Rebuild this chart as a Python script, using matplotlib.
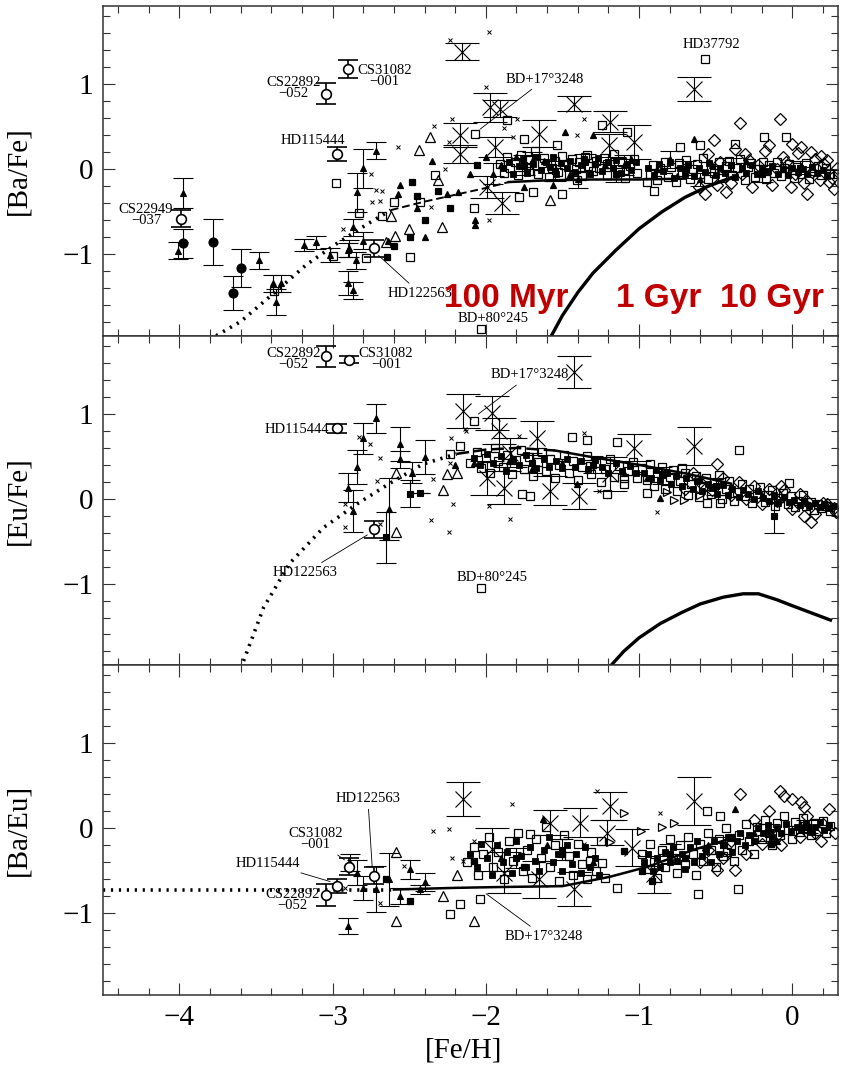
import numpy as np
import matplotlib.pyplot as plt
from matplotlib.ticker import MultipleLocator

plt.rcParams['font.family'] = ['Liberation Serif', 'DejaVu Serif']

# ===========================================================
# PANEL 1: [Ba/Fe]
# ===========================================================
ba_fcirc = [(-3.98, -0.87, 0.17), (-3.78, -0.85, 0.27), (-3.65, -1.45, 0.20), (-3.60, -1.16, 0.22)]
ba_ocirc = [(-3.99, -0.58, 0.10), (-3.04, 0.89, 0.12), (-2.90, 1.18, 0.11), (-2.97, 0.18, 0.08), (-2.73, -0.93, 0.10)]
ba_tri_err = [(-3.98, -0.28, 0.18), (-4.01, -0.96, 0.10), (-3.48, -1.07, 0.10), (-3.39, -1.34, 0.10),
              (-3.34, -1.34, 0.10), (-3.37, -1.56, 0.15), (-3.19, -0.89, 0.07), (-3.11, -0.86, 0.08),
              (-3.02, -1.01, 0.08), (-2.90, -0.95, 0.08), (-2.90, -1.34, 0.14), (-2.87, -1.42, 0.10),
              (-2.84, -0.27, 0.23), (-2.80, 0.01, 0.23), (-2.72, 0.22, 0.10), (-2.80, -0.84, 0.10),
              (-2.87, -0.68, 0.10), (-2.89, -0.93, 0.10), (-2.85, -1.07, 0.10),
              (-1.95, -0.05, 0.12), (-1.70, 0.10, 0.10), (-1.40, -0.12, 0.10), (-1.10, 0.05, 0.12),
              (-0.80, 0.12, 0.10), (-0.60, -0.12, 0.08)]
ba_sq_err = [(-1.75, 0.05, 0.12), (-1.55, -0.02, 0.12), (-1.35, 0.08, 0.10), (-1.15, -0.05, 0.10),
             (-0.70, 0.00, 0.10), (-0.40, 0.05, 0.08), (-0.20, -0.05, 0.10), (0.05, 0.02, 0.08)]
ba_tri = [(-1.48, 0.44), (-1.30, 0.40), (-0.64, 0.36), (-2.57, -0.29), (-2.56, -0.19), (-2.07, -0.60),
          (-2.07, -0.66), (-2.40, -0.80), (-2.25, -0.29), (-2.18, -0.27), (-2.64, -0.84), (-1.75, -0.21),
          (-1.56, -0.19), (-2.45, -0.45), (-2.35, 0.10), (-1.90, 0.05), (-1.62, 0.10), (-1.22, 0.05),
          (-0.88, 0.00), (-0.52, 0.05), (-1.80, 0.15), (-1.45, -0.05), (-1.05, 0.12), (-0.75, -0.08),
          (-0.30, 0.10), (-2.10, -0.05), (-2.00, 0.15)]
ba_bigx = [(-2.156, 1.38, 0.10), (-1.971, 0.73, 0.17), (-1.906, 0.71, 0.10), (-1.426, 0.77, 0.09),
           (-0.642, 0.94, 0.14), (-1.187, 0.56, 0.12), (-2.167, 0.40, 0.14), (-2.167, 0.18, 0.11),
           (-1.655, 0.42, 0.16), (-1.94, 0.26, 0.12), (-1.197, 0.28, 0.13), (-1.034, 0.32, 0.20),
           (-1.895, -0.40, 0.13), (-1.99, -0.21, 0.13)]
ba_smallx = [(-1.982, 1.615), (-2.233, 1.52), (-2.00, 0.97), (-1.797, 0.596), (-2.222, 0.596), (-1.884, 0.48),
             (-2.243, 0.32), (-2.34, 0.505), (-1.36, 0.596), (-1.405, 0.40), (-2.265, 0.008), (-1.982, -0.60),
             (-2.68, -0.25), (-2.69, -0.37), (-2.57, 0.26), (-2.36, -0.44), (-1.82, 0.38), (-2.75, -0.05),
             (-2.72, -0.24), (-2.74, -0.38), (-2.93, -0.70)]
ba_otri = [(-2.433, 0.223), (-2.363, 0.38), (-2.31, -0.13), (-2.287, -0.68), (-1.579, -0.365),
           (-2.59, -0.78), (-2.62, -0.55), (-2.65, -0.85), (-2.50, -0.70)]
ba_fsq = [(-2.646, -1.03), (-2.494, -0.80), (-2.396, -0.60), (-2.232, -0.46), (-2.058, 0.047),
          (-2.309, -0.25), (-2.48, -0.15), (-2.45, -0.31), (-2.60, -0.90)]
ba_osq = [(-2.98, -0.16), (-2.83, -0.51), (-2.78, -1.04), (-3.00, -1.02), (-2.68, -0.55), (-3.38, -1.43),
          (-1.862, 0.576), (-1.753, 0.36), (-2.07, 0.42), (-1.535, 0.28), (-1.50, -0.29), (-1.69, -0.27),
          (-1.786, -0.33), (-2.08, -0.46), (-2.494, -1.03), (-2.33, -0.07), (-2.60, -0.385), (-2.43, -0.385),
          (-0.73, 0.26), (-0.60, 0.28), (-1.08, 0.44), (-1.24, 0.52), (-0.37, 0.30), (-0.185, 0.38),
          (-0.043, 0.38), (-0.947, -0.15), (-0.90, -0.25), (0.295, -0.05), (-1.34, 0.165), (-1.21, 0.066),
          (-1.405, -0.13), (-0.57, 1.30), (-2.03, -1.88),
          (-1.91, 0.06), (-1.88, -0.04), (-1.86, 0.14), (-1.84, 0.01), (-1.81, 0.09), (-1.79, -0.07),
          (-1.77, 0.17), (-1.74, 0.03), (-1.72, -0.02), (-1.71, 0.11), (-1.68, 0.21), (-1.66, -0.05),
          (-1.63, 0.07), (-1.62, 0.13), (-1.59, -0.09), (-1.57, 0.02), (-1.55, 0.10), (-1.53, -0.03),
          (-1.50, 0.16), (-1.49, 0.05), (-1.46, -0.06), (-1.44, 0.12), (-1.41, 0.00), (-1.39, 0.08),
          (-1.37, -0.08), (-1.35, 0.15), (-1.33, 0.04), (-1.30, -0.02), (-1.28, 0.10), (-1.26, 0.01),
          (-1.23, 0.13), (-1.21, -0.07), (-1.19, 0.06), (-1.16, 0.18), (-1.14, -0.03), (-1.11, 0.09),
          (-1.09, -0.10), (-1.06, 0.04), (-1.03, 0.12), (-1.01, -0.04),
          (-0.93, -0.06), (-0.91, 0.05), (-0.88, -0.13), (-0.86, 0.01), (-0.83, 0.09), (-0.81, -0.09),
          (-0.79, 0.03), (-0.76, -0.15), (-0.74, 0.07), (-0.72, -0.03), (-0.69, 0.11), (-0.67, -0.11),
          (-0.65, 0.00), (-0.62, 0.06), (-0.60, -0.05), (-0.58, 0.13), (-0.55, -0.12), (-0.53, 0.02),
          (-0.51, -0.04), (-0.48, 0.08), (-0.46, -0.10), (-0.43, 0.04), (-0.41, 0.10), (-0.39, -0.07),
          (-0.36, 0.01), (-0.34, 0.12), (-0.31, -0.13), (-0.29, 0.03), (-0.27, 0.07), (-0.24, -0.09),
          (-0.22, 0.00), (-0.19, 0.09), (-0.17, -0.11), (-0.15, 0.05), (-0.12, -0.04), (-0.10, 0.08),
          (-0.07, -0.08), (-0.05, 0.02), (-0.02, 0.06), (0.01, -0.10), (0.03, 0.03), (0.06, -0.06),
          (0.09, 0.07), (0.11, -0.12), (0.14, 0.01), (0.17, 0.04), (0.19, -0.07), (0.22, 0.02), (0.25, -0.05)]
ba_dense = [(-1.89, 0.02), (-1.85, 0.08), (-1.82, -0.06), (-1.78, 0.04), (-1.76, 0.12), (-1.73, -0.04),
            (-1.69, 0.06), (-1.67, 0.14), (-1.64, -0.01), (-1.61, 0.09), (-1.58, 0.03), (-1.56, 0.15),
            (-1.54, -0.06), (-1.51, 0.07), (-1.47, 0.01), (-1.45, 0.10), (-1.42, -0.03), (-1.38, 0.05),
            (-1.36, 0.12), (-1.32, -0.05), (-1.29, 0.06), (-1.27, 0.13), (-1.24, -0.02), (-1.20, 0.09),
            (-1.17, 0.02), (-1.15, 0.11), (-1.12, -0.04), (-1.08, 0.06), (-1.05, -0.01), (-1.02, 0.08),
            (-0.94, 0.02), (-0.90, -0.07), (-0.87, 0.06), (-0.84, -0.02), (-0.80, 0.08), (-0.77, -0.10),
            (-0.73, 0.01), (-0.70, -0.05), (-0.68, 0.05), (-0.64, -0.08), (-0.61, 0.02), (-0.57, -0.03),
            (-0.54, 0.07), (-0.50, -0.07), (-0.47, 0.01), (-0.44, -0.04), (-0.40, 0.05), (-0.37, -0.09),
            (-0.33, 0.02), (-0.30, -0.04), (-0.26, 0.05), (-0.23, -0.06), (-0.20, 0.02), (-0.16, -0.02),
            (-0.13, 0.04), (-0.09, -0.05), (-0.06, 0.00), (-0.03, -0.07), (0.00, 0.02), (0.04, -0.03),
            (0.07, 0.00), (0.10, -0.06), (0.13, 0.03), (0.16, -0.04), (0.20, -0.01), (0.23, -0.08)]
ba_diam = [(-0.51, 0.34), (-0.34, 0.545), (-0.08, 0.59), (0.12, 0.20), (0.23, 0.11), (-0.57, -0.29),
           (-0.43, -0.27), (0.10, -0.29), (0.27, -0.23), (-0.47, 0.09), (-0.40, -0.16), (-0.31, 0.18),
           (-0.26, -0.21), (-0.18, 0.22), (-0.13, -0.18), (-0.06, 0.15), (-0.01, -0.21), (0.04, 0.19),
           (0.08, -0.16), (0.15, 0.12), (0.18, -0.13), (0.21, 0.06), (0.26, -0.10), (0.29, 0.01),
           (-0.22, 0.05), (-0.10, 0.00), (0.02, -0.06), (-0.33, -0.05), (-0.49, -0.19), (-0.61, -0.21),
           (-0.15, 0.28), (0.00, 0.30), (0.06, 0.26), (-0.37, 0.24), (-0.55, 0.18), (0.13, -0.03),
           (0.19, 0.16), (-0.04, 0.08), (-0.28, 0.11), (0.24, -0.15)]
ba_dot_x = [-3.85, -3.60, -3.36, -3.17, -2.97, -2.77, -2.62]
ba_dot_y = [-2.05, -1.79, -1.42, -1.12, -0.87, -0.64, -0.48]
ba_dash_x = [-2.62, -2.40, -2.20, -2.00, -1.85]
ba_dash_y = [-0.48, -0.38, -0.30, -0.22, -0.15]
ba_trend_x = [-1.85, -1.60, -1.30, -1.00, -0.70]
ba_trend_y = [-0.15, -0.13, -0.12, -0.12, -0.11]
ba_sfr_x = [-1.60, -1.50, -1.40, -1.30, -1.15, -1.00, -0.85, -0.70, -0.55, -0.40]
ba_sfr_y = [-2.05, -1.72, -1.45, -1.22, -0.95, -0.70, -0.50, -0.33, -0.20, -0.10]

# ===========================================================
# PANEL 2: [Eu/Fe]
# ===========================================================
eu_ocirc = [(-3.04, 1.68, 0.12), (-2.89, 1.64, 0.04), (-2.97, 0.83, 0.05), (-2.73, -0.36, 0.10)]
eu_tri_err = [(-2.716, 0.949, 0.17), (-2.80, 0.713, 0.18), (-2.838, 0.376, 0.20), (-2.897, 0.133, 0.17),
              (-2.864, -0.142, 0.25), (-2.563, 0.643, 0.20), (-2.559, 0.466, 0.10), (-2.483, 0.309, 0.12),
              (-2.395, 0.494, 0.20), (-2.635, -0.12, 0.37)]
eu_fsq_err = [(-2.494, 0.062, 0.16), (-2.43, 0.074, 0.0), (-2.65, -0.455, 0.30), (-0.119, -0.20, 0.20),
              (-1.70, 0.42, 0.12), (-1.30, 0.40, 0.10), (-0.85, 0.28, 0.10), (-0.50, 0.15, 0.10)]
eu_otri = [(-2.585, -0.397), (-2.585, 0.31), (-2.28, 0.10), (-2.254, 0.29), (-2.19, 0.31)]
eu_smallx = [(-2.83, 0.73), (-2.755, 0.642), (-2.69, 0.486), (-2.707, 0.211), (-2.918, -0.063),
             (-2.918, -0.338), (-2.69, -0.30), (-2.36, -0.25), (-2.243, -0.397), (-2.215, -0.063),
             (-2.345, 0.231), (-2.23, 0.713), (-2.127, 0.80), (-2.236, 0.427), (-2.134, 0.82),
             (-1.98, -0.083), (-1.84, -0.24), (-0.882, -0.161), (-1.786, 0.74), (-1.361, 0.78), (-1.263, 0.094)]
eu_bigx = [(-2.15, 1.035, 0.20), (-1.426, 1.498, 0.19), (-1.96, 1.015, 0.20), (-1.916, 0.80, 0.15),
           (-1.84, 0.545, 0.17), (-1.666, 0.72, 0.20), (-1.993, 0.25, 0.20), (-1.884, 0.133, 0.20),
           (-1.579, 0.094, 0.17), (-1.393, 0.035, 0.15), (-1.187, 0.29, 0.20), (-1.034, 0.603, 0.16),
           (-0.642, 0.623, 0.22)]
eu_tri = [(-1.404, 0.172), (-0.86, 0.015), (-2.08, 0.427), (-1.70, 0.35), (-1.50, 0.42), (-1.10, 0.30),
          (-0.75, 0.30), (-0.40, 0.15), (-2.20, 0.40), (-1.85, 0.45), (-1.30, 0.40), (-0.95, 0.25),
          (-0.60, 0.22), (-0.20, 0.05), (0.10, -0.05)]
eu_rtri = [(-0.773, -0.012), (-0.703, -0.012), (-0.82, 0.08), (-0.60, 0.05)]
eu_osq = [(-2.171, 0.623), (-2.232, 0.525), (-2.08, 0.92), (-2.03, -1.05), (-1.437, 0.729), (-1.339, 0.69),
          (-1.143, 0.674), (-0.348, 0.576), (-0.021, 0.192), (-1.21, 0.055), (-1.317, 0.388), (-1.764, 0.055),
          (-1.71, 0.035), (-0.947, 0.074), (-0.555, -0.044), (-0.472, -0.044), (-1.10, 0.25), (-0.718, 0.368),
          (-2.10, 0.42), (-2.06, 0.55), (-2.03, 0.36), (-2.00, 0.48), (-1.97, 0.31), (-1.94, 0.60),
          (-1.92, 0.44), (-1.89, 0.38), (-1.86, 0.52), (-1.83, 0.29), (-1.80, 0.46), (-1.77, 0.57),
          (-1.75, 0.35), (-1.72, 0.49), (-1.69, 0.27), (-1.66, 0.43), (-1.63, 0.55), (-1.61, 0.33),
          (-1.58, 0.47), (-1.55, 0.24), (-1.52, 0.40), (-1.49, 0.52), (-1.46, 0.31), (-1.43, 0.44),
          (-1.40, 0.22), (-1.37, 0.38), (-1.34, 0.50), (-1.31, 0.29), (-1.28, 0.42), (-1.25, 0.20),
          (-1.22, 0.35), (-1.19, 0.47), (-1.16, 0.26), (-1.13, 0.39), (-1.10, 0.18), (-1.07, 0.33),
          (-1.04, 0.43), (-1.01, 0.24),
          (-0.98, 0.36), (-0.95, 0.22), (-0.93, 0.41), (-0.90, 0.15), (-0.88, 0.30), (-0.85, 0.38),
          (-0.83, 0.12), (-0.80, 0.26), (-0.78, 0.34), (-0.75, 0.09), (-0.73, 0.21), (-0.70, 0.31),
          (-0.68, 0.05), (-0.66, 0.18), (-0.63, 0.27), (-0.61, 0.02), (-0.58, 0.14), (-0.56, 0.25),
          (-0.53, 0.06), (-0.51, 0.19), (-0.48, 0.28), (-0.46, 0.00), (-0.43, 0.11), (-0.41, 0.21),
          (-0.38, -0.02), (-0.36, 0.08), (-0.33, 0.17), (-0.31, 0.03), (-0.28, 0.12), (-0.26, -0.05),
          (-0.23, 0.06), (-0.21, 0.14), (-0.18, -0.04), (-0.16, 0.04), (-0.13, 0.10), (-0.11, -0.08),
          (-0.08, 0.01), (-0.06, 0.07), (-0.03, -0.06), (-0.01, 0.03), (0.02, -0.10), (0.04, -0.02),
          (0.07, 0.04), (0.09, -0.09), (0.12, -0.04), (0.14, -0.13), (0.17, -0.06), (0.19, -0.11),
          (0.22, -0.08), (0.25, -0.14)]
eu_dense = [(-2.08, 0.48), (-2.04, 0.40), (-1.99, 0.53), (-1.95, 0.42), (-1.90, 0.50), (-1.87, 0.33),
            (-1.82, 0.46), (-1.78, 0.40), (-1.74, 0.52), (-1.70, 0.42), (-1.67, 0.36), (-1.62, 0.47),
            (-1.59, 0.38), (-1.54, 0.45), (-1.50, 0.36), (-1.47, 0.47), (-1.42, 0.38), (-1.38, 0.44),
            (-1.33, 0.35), (-1.29, 0.46), (-1.24, 0.38), (-1.20, 0.30), (-1.15, 0.42), (-1.11, 0.33),
            (-1.06, 0.39), (-1.02, 0.30),
            (-0.97, 0.30), (-0.92, 0.25), (-0.89, 0.34), (-0.86, 0.22), (-0.82, 0.30), (-0.79, 0.18),
            (-0.76, 0.27), (-0.72, 0.15), (-0.69, 0.24), (-0.65, 0.12), (-0.62, 0.21), (-0.59, 0.09),
            (-0.55, 0.18), (-0.52, 0.13), (-0.49, 0.06), (-0.45, 0.16), (-0.42, 0.04), (-0.39, 0.12),
            (-0.35, 0.02), (-0.32, 0.10), (-0.29, 0.06), (-0.25, 0.00), (-0.22, 0.09), (-0.19, 0.01),
            (-0.15, -0.03), (-0.12, 0.05), (-0.09, -0.05), (-0.05, 0.02), (-0.02, -0.04), (0.01, -0.01),
            (0.05, -0.07), (0.08, -0.03), (0.11, -0.09), (0.15, -0.05), (0.18, -0.10), (0.21, -0.06),
            (0.24, -0.11), (0.27, -0.09)]
eu_diam = [(-0.49, 0.415), (-0.075, 0.152), (0.121, -0.279), (0.284, -0.161), (0.23, -0.063),
           (-0.60, 0.20), (-0.52, 0.10), (-0.45, 0.25), (-0.40, 0.05), (-0.35, 0.20), (-0.30, 0.00),
           (-0.25, 0.15), (-0.20, -0.06), (-0.15, 0.12), (-0.10, -0.03), (-0.05, 0.10), (0.00, -0.12),
           (0.05, 0.06), (0.10, -0.02), (0.15, -0.18), (0.20, -0.05), (0.27, -0.11), (-0.70, 0.12),
           (-0.65, 0.30), (0.08, -0.20), (0.30, -0.15)]
eu_dot_x = [-3.60, -3.45, -3.28, -3.06, -2.84, -2.62, -2.41, -2.19]
eu_dot_y = [-2.00, -1.28, -0.76, -0.34, -0.06, 0.19, 0.41, 0.53]
eu_dash_x = [-2.19, -2.00, -1.80, -1.55]
eu_dash_y = [0.53, 0.58, 0.60, 0.57]
eu_trend_x = [-1.55, -1.30, -1.00, -0.70, -0.40]
eu_trend_y = [0.57, 0.49, 0.40, 0.30, 0.18]
eu_sfr_x = [-1.20, -1.10, -1.00, -0.86, -0.72, -0.60, -0.45, -0.32, -0.22, -0.10, 0.00, 0.25]
eu_sfr_y = [-2.00, -1.80, -1.64, -1.47, -1.34, -1.24, -1.16, -1.12, -1.12, -1.19, -1.26, -1.43]

# ===========================================================
# PANEL 3: [Ba/Eu]
# ===========================================================
be_ocirc = [(-3.04, -0.78, 0.13), (-2.89, -0.45, 0.10), (-2.97, -0.68, 0.08), (-2.73, -0.56, 0.10)]
be_tri_err = [(-2.897, -1.149, 0.09), (-2.886, -0.404, 0.10), (-2.838, -0.522, 0.15), (-2.80, -0.698, 0.14),
              (-2.716, -0.718, 0.27), (-2.635, -0.60, 0.31), (-2.559, -0.796, 0.09), (-2.494, -0.483, 0.11),
              (-2.428, -0.718, 0.05), (-2.395, -0.63, 0.11)]
be_sq_err = [(-1.80, -0.35, 0.12), (-1.50, -0.25, 0.12), (-0.80, -0.30, 0.12), (-0.45, -0.20, 0.10),
             (-0.15, -0.05, 0.10), (0.10, 0.02, 0.08)]
be_fsq = [(-2.494, -0.855), (-2.65, -0.60), (-2.08, -0.384), (-1.10, -0.267), (-0.98, -0.50),
          (-0.914, -0.62), (-0.141, -0.188), (-1.75, -0.45), (-1.50, -0.30), (-0.70, -0.35), (-0.40, -0.10)]
be_otri = [(-2.585, -0.279), (-2.585, -1.09), (-2.28, -0.79), (-2.19, -0.553), (-2.08, -1.09)]
be_smallx = [(-2.92, -0.70), (-2.69, -0.875), (-2.345, -0.031), (-2.243, -0.004), (-2.537, -0.443),
             (-2.22, -0.345), (-2.15, -0.38), (-1.829, 0.282), (-1.274, 0.439), (-2.08, -0.149),
             (-1.361, -0.188), (-0.86, 0.184)]
be_bigx = [(-2.15, 0.341, 0.20), (-0.642, 0.321, 0.28), (-1.383, 0.067, 0.17), (-1.187, 0.262, 0.16),
           (-1.96, -0.247, 0.25), (-1.579, 0.067, 0.15), (-1.426, -0.718, 0.20), (-1.884, -0.522, 0.24),
           (-1.655, -0.60, 0.22), (-1.045, -0.227, 0.22), (-0.903, -0.54, 0.22), (-1.208, -0.051, 0.15)]
be_tri = [(-1.627, 0.106), (-0.37, 0.223), (-1.90, -0.35), (-1.60, -0.20), (-1.30, -0.40), (-0.80, -0.30),
          (-0.55, -0.20), (-0.25, -0.05), (0.05, 0.05), (-0.10, -0.15)]
be_rtri = [(-1.10, 0.176), (-1.187, -0.161), (-0.99, -0.031), (-0.773, 0.067), (-0.85, 0.02)]
be_osq = [(-2.232, -1.012), (-2.171, -0.894), (-0.555, 0.204), (-1.143, -0.698), (-0.616, -0.777),
          (-0.354, -0.718), (-0.468, 0.145), (-1.71, -0.071), (-1.317, -0.384), (-1.24, -0.404),
          (-2.036, -0.828), (-0.424, -0.279),
          (-2.12, -0.40), (-2.08, -0.22), (-2.05, -0.55), (-2.02, -0.30), (-1.98, -0.10), (-1.95, -0.45),
          (-1.92, -0.28), (-1.88, -0.60), (-1.85, -0.15), (-1.82, -0.38), (-1.79, -0.05), (-1.76, -0.50),
          (-1.73, -0.25), (-1.70, -0.58), (-1.67, -0.12), (-1.64, -0.35), (-1.61, 0.02), (-1.58, -0.46),
          (-1.55, -0.20), (-1.52, -0.62), (-1.49, -0.08), (-1.46, -0.32), (-1.43, -0.55), (-1.40, -0.18),
          (-1.37, -0.42), (-1.34, -0.60), (-1.31, -0.28), (-1.28, -0.50), (-1.25, -0.15), (-1.22, -0.58),
          (-0.98, -0.30), (-0.95, -0.48), (-0.93, -0.18), (-0.90, -0.40), (-0.88, -0.58), (-0.85, -0.25),
          (-0.83, -0.45), (-0.80, -0.12), (-0.78, -0.35), (-0.75, -0.52), (-0.73, -0.20), (-0.70, -0.42),
          (-0.68, -0.10), (-0.65, -0.30), (-0.63, -0.55), (-0.60, -0.18), (-0.58, -0.38), (-0.55, -0.05),
          (-0.53, -0.26), (-0.50, -0.45), (-0.48, -0.12), (-0.45, -0.32), (-0.43, 0.00), (-0.40, -0.20),
          (-0.38, -0.38), (-0.35, -0.08), (-0.33, -0.25), (-0.30, 0.05), (-0.28, -0.15), (-0.25, -0.30),
          (-0.23, 0.02), (-0.20, -0.12), (-0.18, 0.10), (-0.15, -0.05), (-0.13, -0.20), (-0.10, 0.06),
          (-0.08, -0.08), (-0.05, 0.14), (-0.03, -0.02), (0.00, -0.12), (0.02, 0.08), (0.05, -0.04),
          (0.07, 0.12), (0.10, 0.00), (0.12, -0.08), (0.15, 0.06), (0.17, -0.03), (0.20, 0.09),
          (0.22, -0.06), (0.25, 0.03)]
be_dense = [(-2.10, -0.30), (-2.06, -0.45), (-2.03, -0.18), (-1.99, -0.35), (-1.96, -0.55), (-1.93, -0.20),
            (-1.89, -0.40), (-1.86, -0.28), (-1.83, -0.52), (-1.80, -0.15), (-1.77, -0.33), (-1.74, -0.45),
            (-1.71, -0.22), (-1.68, -0.38), (-1.65, -0.50), (-1.62, -0.25), (-1.59, -0.10), (-1.56, -0.40),
            (-1.53, -0.30), (-1.50, -0.50), (-1.47, -0.20), (-1.44, -0.42), (-1.41, -0.30), (-1.38, -0.52),
            (-1.35, -0.22), (-1.32, -0.45), (-1.29, -0.35), (-1.26, -0.55),
            (-0.97, -0.40), (-0.94, -0.30), (-0.91, -0.50), (-0.88, -0.35), (-0.86, -0.45), (-0.83, -0.28),
            (-0.80, -0.40), (-0.78, -0.22), (-0.75, -0.38), (-0.72, -0.30), (-0.70, -0.48), (-0.67, -0.22),
            (-0.64, -0.40), (-0.62, -0.15), (-0.59, -0.32), (-0.56, -0.25), (-0.53, -0.40), (-0.51, -0.15),
            (-0.48, -0.30), (-0.45, -0.20), (-0.42, -0.10), (-0.39, -0.28), (-0.36, -0.15), (-0.34, -0.05),
            (-0.31, -0.20), (-0.28, -0.08), (-0.25, -0.15), (-0.22, 0.00), (-0.19, -0.06), (-0.16, 0.04),
            (-0.13, -0.10), (-0.10, 0.00), (-0.07, -0.05), (-0.04, 0.05), (-0.01, -0.03), (0.03, 0.02),
            (0.06, -0.02), (0.09, 0.06), (0.12, -0.04), (0.15, 0.02), (0.18, 0.07), (0.21, -0.02), (0.24, 0.04)]
be_diam = [(-0.341, 0.40), (-0.08, 0.439), (0.055, 0.31), (0.24, 0.23), (-0.49, -0.49), (-0.376, -0.49),
           (-0.076, -0.20), (0.186, -0.149), (-0.05, 0.38), (0.00, 0.35), (-0.60, -0.40), (-0.55, -0.25),
           (-0.45, -0.35), (-0.30, -0.30), (-0.20, -0.18), (-0.10, -0.08), (0.05, -0.10), (0.10, 0.15),
           (0.15, -0.06), (0.20, 0.05), (0.28, -0.05), (-0.25, 0.10), (-0.15, 0.20), (0.08, 0.25),
           (-0.40, -0.15)]
be_dot_x = [-4.50, -2.60]
be_dot_y = [-0.72, -0.72]
be_trend_x = [-2.60, -2.20, -1.90, -1.50, -1.19, -0.94, -0.64, -0.40]
be_trend_y = [-0.72, -0.70, -0.69, -0.68, -0.57, -0.45, -0.25, -0.12]

# annotations: (text, text position, pointed point or None, alignment)
ba_labels = [("CS22949\n\u2212037", (-4.04, -0.54), None, 'right'),
             ("CS22892\n\u2212052", (-3.08, 0.95), None, 'right'),
             ("CS31082\n\u2212001", (-2.84, 1.10), None, 'left'),
             ("HD115444", (-3.13, 0.34), None, 'center'),
             ("HD122563", (-2.64, -1.46), (-2.72, -0.98), 'left'),
             ("BD+17\u00b03248", (-1.87, 1.06), (-2.06, 0.44), 'left'),
             ("HD37792", (-0.53, 1.47), None, 'center'),
             ("BD+80\u00b0245", (-1.95, -1.75), None, 'center')]
eu_labels = [("CS22892\n\u2212052", (-3.08, 1.65), None, 'right'),
             ("CS31082\n\u2212001", (-2.83, 1.65), None, 'left'),
             ("HD115444", (-3.02, 0.82), None, 'right'),
             ("HD122563", (-3.18, -0.87), (-2.75, -0.40), 'center'),
             ("BD+17\u00b03248", (-1.97, 1.46), (-2.07, 0.97), 'left'),
             ("BD+80\u00b0245", (-1.96, -0.93), None, 'center')]
be_labels = [("HD122563", (-2.77, 0.35), (-2.74, -0.50), 'center'),
             ("CS31082\n\u2212001", (-3.11, -0.13), (-2.90, -0.40), 'center'),
             ("HD115444", (-3.42, -0.41), (-2.99, -0.64), 'center'),
             ("CS22892\n\u2212052", (-3.26, -0.84), None, 'center'),
             ("BD+17\u00b03248", (-1.62, -1.27), (-2.02, -0.74), 'center')]

age_labels = ["100 Myr", "1 Gyr", "10 Gyr"]
age_x = [-2.27, -1.15, -0.47]


def pts(lst):
    return np.array(lst, dtype=float).T


def err_marks(ax, lst, marker, ms, mfc='k', cap=7, mew=0.8, elw=0.8):
    x, y, e = pts(lst)
    ax.errorbar(x, y, yerr=e, fmt=marker, ms=ms, mfc=mfc, mec='k', mew=mew,
                ecolor='k', elinewidth=elw, capsize=cap, capthick=elw, zorder=3)


def marks(ax, lst, marker, ms, mfc='none', mew=0.9):
    x, y = pts(lst)
    ax.plot(x, y, ls='none', marker=marker, ms=ms, mfc=mfc, mec='k', mew=mew, zorder=2)


def labels(ax, lst):
    for txt, pos, target, ha in lst:
        if target is None:
            ax.text(pos[0], pos[1], txt, ha=ha, va='center', fontsize=10.5,
                    linespacing=0.8, multialignment='center', zorder=5)
        else:
            ax.annotate(txt, xy=target, xytext=pos, ha=ha, va='center', fontsize=10.5,
                        linespacing=0.8, multialignment='center', zorder=5,
                        arrowprops=dict(arrowstyle='-', lw=0.6, color='k', shrinkA=1, shrinkB=3))


def style(ax, ylabel):
    ax.set_xlim(-4.5, 0.3)
    ax.set_ylim(-1.96, 1.92)
    ax.xaxis.set_major_locator(MultipleLocator(1))
    ax.xaxis.set_minor_locator(MultipleLocator(0.2))
    ax.yaxis.set_major_locator(MultipleLocator(1))
    ax.yaxis.set_minor_locator(MultipleLocator(0.2))
    ax.tick_params(which='both', direction='in', top=True, right=True, color='#333333',
                   width=0.8, labelsize=21, pad=7)
    ax.tick_params(which='major', length=8.6)
    ax.tick_params(which='minor', length=5)
    for s in ax.spines.values():
        s.set_linewidth(1.1)
        s.set_color('#333333')
    ax.set_ylabel(ylabel, fontsize=21)
    ax.yaxis.set_label_coords(-0.097, 0.5)


def cloud(ax, osq, dense, diam, sq_err=None):
    marks(ax, osq, 's', 6.3)
    marks(ax, dense, 's', 4.2, mfc='k', mew=0.6)
    marks(ax, diam, 'D', 5.8)
    if sq_err is not None:
        err_marks(ax, sq_err, 's', 4, cap=8)


fig = plt.figure(figsize=(8.5, 10.69), dpi=100)
ax1 = fig.add_axes([0.121, 0.6857, 0.865, 0.3087])
ax2 = fig.add_axes([0.121, 0.3779, 0.865, 0.3078])
ax3 = fig.add_axes([0.121, 0.0692, 0.865, 0.3087])

# ---------------- panel 1 ----------------
ax1.plot(ba_dot_x, ba_dot_y, color='k', lw=2.6, ls=(0, (0.6, 1.6)), zorder=1)
ax1.plot(ba_dash_x, ba_dash_y, color='k', lw=1.4, ls=(0, (4, 2)), zorder=1)
ax1.plot(ba_trend_x, ba_trend_y, color='k', lw=1.8, zorder=1)
ax1.plot(ba_sfr_x, ba_sfr_y, color='k', lw=2.4, zorder=4)
cloud(ax1, ba_osq, ba_dense, ba_diam, ba_sq_err)
marks(ax1, ba_otri, '^', 7)
marks(ax1, ba_fsq, 's', 4.5, mfc='k')
marks(ax1, ba_tri, '^', 5, mfc='k')
marks(ax1, ba_smallx, 'x', 3, mew=0.7)
err_marks(ax1, ba_fcirc, 'o', 6.5)
err_marks(ax1, ba_tri_err, '^', 5)
err_marks(ax1, ba_bigx, 'x', 11, mfc='none', cap=12)
err_marks(ax1, ba_ocirc, 'o', 7, mfc='white', mew=1.2, elw=1.2)
labels(ax1, ba_labels)
for txt, x in zip(age_labels, age_x):
    ax1.text(x, -1.62, txt, color='#c00000', fontsize=24, fontweight='bold',
             family=['Liberation Sans', 'DejaVu Sans'], ha='left', va='baseline', zorder=6)
style(ax1, '[Ba/Fe]')
ax1.tick_params(labelbottom=False)

# ---------------- panel 2 ----------------
ax2.plot(eu_dot_x, eu_dot_y, color='k', lw=2.6, ls=(0, (0.6, 1.6)), zorder=1)
ax2.plot(eu_dash_x, eu_dash_y, color='k', lw=1.8, ls=(0, (5, 2)), zorder=1)
ax2.plot(eu_trend_x, eu_trend_y, color='k', lw=1.8, zorder=1)
ax2.plot(eu_sfr_x, eu_sfr_y, color='k', lw=2.4, zorder=4)
cloud(ax2, eu_osq, eu_dense, eu_diam)
marks(ax2, eu_otri, '^', 7)
marks(ax2, eu_rtri, '>', 6)
marks(ax2, eu_tri, '^', 5, mfc='k')
marks(ax2, eu_smallx, 'x', 3, mew=0.7)
err_marks(ax2, eu_tri_err, '^', 5)
err_marks(ax2, eu_fsq_err, 's', 4.5)
err_marks(ax2, eu_bigx, 'x', 11, mfc='none', cap=12)
err_marks(ax2, eu_ocirc, 'o', 7, mfc='white', mew=1.2, elw=1.2)
labels(ax2, eu_labels)
style(ax2, '[Eu/Fe]')
ax2.tick_params(labelbottom=False)

# ---------------- panel 3 ----------------
ax3.plot(be_dot_x, be_dot_y, color='k', lw=2.6, ls=(0, (0.6, 1.6)), zorder=1)
ax3.plot(be_trend_x, be_trend_y, color='k', lw=1.8, zorder=1)
cloud(ax3, be_osq, be_dense, be_diam, be_sq_err)
marks(ax3, be_otri, '^', 7)
marks(ax3, be_rtri, '>', 6)
marks(ax3, be_fsq, 's', 4.5, mfc='k')
marks(ax3, be_tri, '^', 5, mfc='k')
marks(ax3, be_smallx, 'x', 3, mew=0.7)
err_marks(ax3, be_tri_err, '^', 5)
err_marks(ax3, be_bigx, 'x', 11, mfc='none', cap=12)
err_marks(ax3, be_ocirc, 'o', 7, mfc='white', mew=1.2, elw=1.2)
labels(ax3, be_labels)
style(ax3, '[Ba/Eu]')
ax3.set_xlabel('[Fe/H]', fontsize=21)
ax3.xaxis.set_label_coords(0.49, -0.13)

fig.savefig('out.png', dpi=100)
